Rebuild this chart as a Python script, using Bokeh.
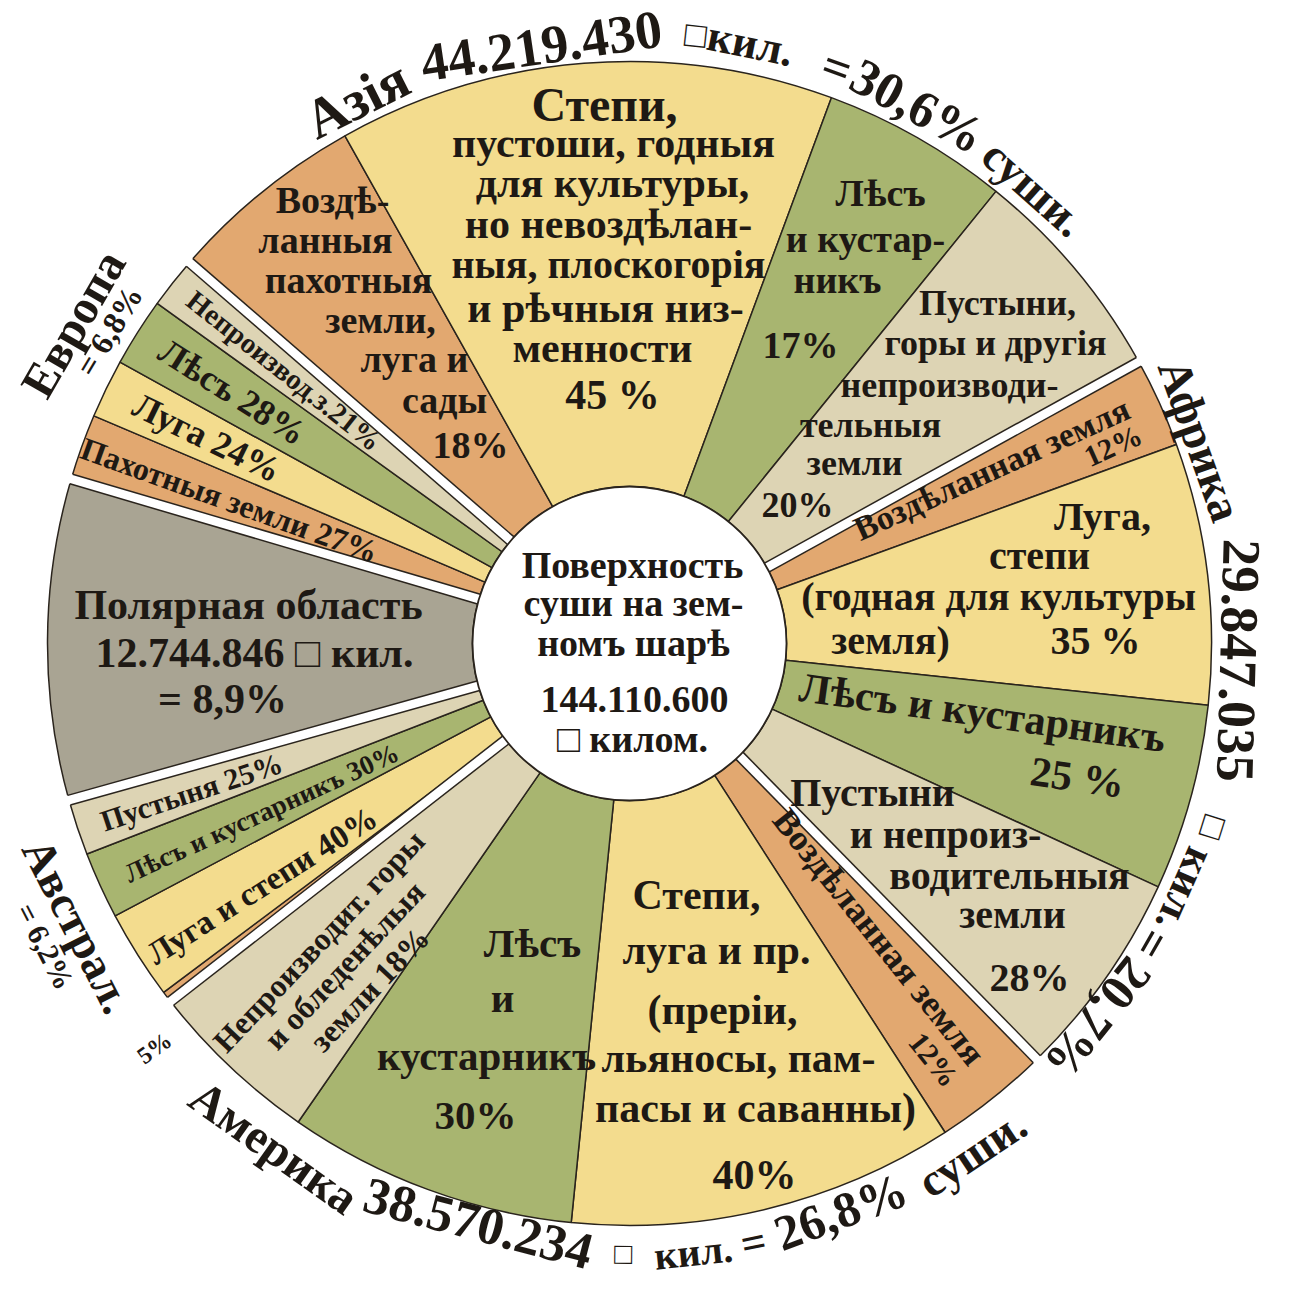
import math
from bokeh.plotting import figure
from bokeh.models import Range1d
from bokeh.embed import file_html
from bokeh.resources import INLINE
from bokeh.core.properties import value

# ------------------------------------------------------------------ data
continent_names = ["Азія", "Африка", "Америка", "Австрал.", "Полярная область", "Европа"]
continent_shares = [30.6, 20.7, 26.8, 6.2, 8.9, 6.8]          # % of all land
continent_areas = ["44.219.430", "29.847.035", "38.570.234", "", "12.744.846", ""]
total_area = "144.110.600"

asia_shares = [18, 45, 17, 20]
africa_shares = [12, 35, 25, 28]
america_shares = [12, 40, 30, 18]
australia_shares = [5, 40, 30, 25]
polar_shares = [100]
europe_shares = [27, 24, 28, 21]

asia_kinds = ["cult", "steppe", "forest", "waste"]
africa_kinds = ["cult", "steppe", "forest", "waste"]
america_kinds = ["cult", "steppe", "forest", "waste"]
australia_kinds = ["cult", "steppe", "forest", "waste"]
polar_kinds = ["polar"]
europe_kinds = ["cult", "steppe", "forest", "waste"]

kind_colors = {"cult": "#E2A870", "steppe": "#F3DC8E", "forest": "#A8B570",
               "waste": "#DDD4B4", "polar": "#A9A493"}

# ------------------------------------------------------------------ figure
W, H = 1275, 1280
p = figure(width=W, height=H, x_range=Range1d(8, 8 + W), y_range=Range1d(8, 8 + H),
           output_backend="svg", toolbar_location=None, min_border=0)
p.axis.visible = False
p.grid.visible = False
p.outline_line_color = None
p.background_fill_color = "white"
p.border_fill_color = "white"

CX, CY = 637, 1296 - 651
R_OUT, R_IN = 582, 157
START = 139.1
GAP = 10
INK = "#1e1914"
EDGE = "#2a241d"
FONT = value("'Liberation Serif', 'DejaVu Serif', serif")

all_shares = [asia_shares, africa_shares, america_shares, australia_shares, polar_shares, europe_shares]
all_kinds = [asia_kinds, africa_kinds, america_kinds, australia_kinds, polar_kinds, europe_kinds]

w_start, w_end, w_color = [], [], []
bounds = []
mids = {}
a = START
for ci, (cs, parts, kinds) in enumerate(zip(continent_shares, all_shares, all_kinds)):
    span = cs * 3.6
    bounds.append(a)
    tot = sum(parts)
    s = a
    for pi, (v, k) in enumerate(zip(parts, kinds)):
        w = span * v / tot
        w_start.append(math.radians(s - w))
        w_end.append(math.radians(s))
        w_color.append(kind_colors[k])
        mids[(ci, pi)] = s - w / 2
        s -= w
    a -= span

p.annular_wedge(x=CX, y=CY, inner_radius=R_IN, outer_radius=R_OUT,
                start_angle=w_start, end_angle=w_end, fill_color=w_color,
                line_color=EDGE, line_width=1.5)

# white gaps between continents
gx, gy, lx, ly = [], [], [], []
h = GAP / 2
for b in bounds:
    t = math.radians(b)
    ux, uy = math.cos(t), math.sin(t)
    nx, ny = -uy, ux
    r0, r1 = R_IN - 6, R_OUT + 6
    gx.append([CX + r0 * ux + h * nx, CX + r1 * ux + h * nx, CX + r1 * ux - h * nx, CX + r0 * ux - h * nx])
    gy.append([CY + r0 * uy + h * ny, CY + r1 * uy + h * ny, CY + r1 * uy - h * ny, CY + r0 * uy - h * ny])
    re = math.sqrt(R_OUT ** 2 - h ** 2)
    for sg in (1, -1):
        lx.append([CX + R_IN * ux + sg * h * nx, CX + re * ux + sg * h * nx])
        ly.append([CY + R_IN * uy + sg * h * ny, CY + re * uy + sg * h * ny])
p.patches(gx, gy, fill_color="white", line_color=None)
p.multi_line(lx, ly, line_color=EDGE, line_width=1.5)

p.circle(x=CX, y=CY, radius=R_IN, fill_color="white", line_color=EDGE, line_width=1.8)


# ------------------------------------------------------------------ text helpers
def put(x, y, s, size, rot=0.0, style="bold"):
    p.text(x=[x], y=[y], text=[s], angle=[math.radians(rot)],
           text_font=FONT, text_font_size=value(f"{size}px"), text_font_style=style,
           text_align="center", text_baseline="middle", text_color=INK)


def put_img(X, Y, s, size, rot=0.0, style="bold"):
    put(X, 1296 - Y, s, size, rot, style)


def polar(phi, r):
    t = math.radians(phi)
    return CX + r * math.cos(t), CY + r * math.sin(t)


def put_lines(phi, r, lines, size, rot, spacing, shift=0.0):
    x0, y0 = polar(phi, r)
    d = math.radians(rot - 90)
    n = len(lines)
    for k, s in enumerate(lines):
        off = (k - (n - 1) / 2) * spacing + shift
        put(x0 + off * math.cos(d), y0 + off * math.sin(d), s, size, rot)


def pct(v):
    return f"{v:.1f}".replace(".", ",") + "%"


def arc_words(words, phis, radii, sizes, outward=True):
    for wd, phi, r, sz in zip(words, phis, radii, sizes):
        rot = phi - 90 if outward else phi + 90
        x, y = polar(phi, r)
        put(x, y, wd, sz, rot)


# ------------------------------------------------------------------ outer labels
arc_words([continent_names[0], continent_areas[0], "□", "кил.", "=", pct(continent_shares[0]), "суши."],
          [116.6, 98.4, 83.8, 78.6, 70.2, 61.8, 48.4],
          [609, 604, 612, 612, 612, 610, 609],
          [56, 54, 36, 44, 50, 52, 46], outward=True)
arc_words([continent_names[1], continent_areas[1], "□", "кил.", "=", pct(continent_shares[1])],
          [19.6, -1.6, -17.5, -23.9, -29.9, -38.6],
          [606, 609, 612, 608, 603, 600],
          [47, 54, 36, 44, 48, 50], outward=True)
arc_words([continent_names[2], continent_areas[2], "□", "кил.", "=", pct(continent_shares[2]), "суши."],
          [-125.2, -104.6, -90.6, -84.0, -78.3, -69.6, -56.1],
          [616, 599, 610, 612, 612, 606, 614],
          [48, 52, 30, 40, 44, 50, 46], outward=False)
arc_words([continent_names[5], "= " + pct(continent_shares[5])], [150.1, 149.0], [642, 607], [48, 32], outward=True)
arc_words([continent_names[3], "= " + pct(continent_shares[3])], [-152.9, -152.6], [620, 658], [46, 30], outward=False)
x5, y5 = polar(-139.6, 624)
put(x5, y5, f"{australia_shares[0]}%", 24, 36)

# ------------------------------------------------------------------ centre
for s, X, Y in [("Поверхность", 640, 572), ("суши на зем-", 641, 610), ("номъ шарѣ", 641, 650),
                (total_area, 642, 707), ("□ килом.", 640, 746)]:
    put_img(X, Y, s, 38)

# ------------------------------------------------------------------ Asia
for s, X, Y in [("Воздѣ-", 340, 207), ("ланныя", 333, 247), ("пахотныя", 356, 287), ("земли,", 388, 327),
                ("луга и", 422, 366), ("сады", 452, 407), (f"{asia_shares[0]}%", 478, 452)]:
    put_img(X, Y, s, 38)
put_img(612, 112, "Степи,", 48)
for s, X, Y, sz in [("пустоши, годныя", 621, 150, 42), ("для культуры,", 620, 190, 42),
                    ("но невоздѣлан-", 616, 231, 42), ("ныя, плоскогорія", 616, 272, 40),
                    ("и рѣчныя низ-", 613, 315, 42), ("менности", 610, 355, 42),
                    (f"{asia_shares[1]} %", 620, 402, 42)]:
    put_img(X, Y, s, sz)
for s, X, Y in [("Лѣсъ", 888, 200), ("и кустар-", 873, 246), ("никъ", 845, 287), (f"{asia_shares[2]}%", 808, 352)]:
    put_img(X, Y, s, 38)
for s, X, Y in [("Пустыни,", 1005, 310), ("горы и другія", 1003, 350), ("непроизводи-", 957, 392),
                ("тельныя", 878, 432), ("земли", 862, 470), (f"{asia_shares[3]}%", 805, 512)]:
    put_img(X, Y, s, 36)

# ------------------------------------------------------------------ Africa
m = mids[(1, 0)]
put_lines(m, 402, ["Воздѣланная земля"], 34, m, 0, shift=-9)
put_lines(m, 522, [f"{africa_shares[0]}%"], 30, m, 0, shift=20)
for s, X, Y in [("Луга,", 1110, 524), ("степи", 1047, 563), ("(годная для культуры", 1006, 604),
                ("земля)", 898, 648), (f"{africa_shares[1]} %", 1103, 648)]:
    put_img(X, Y, s, 40)
put_img(990, 720, "Лѣсъ и кустарникъ", 42, -8)
put_img(1085, 785, f"{africa_shares[2]} %", 42, -8)
for s, X, Y in [("Пустыни", 880, 800), ("и непроиз-", 953, 842), ("водительныя", 1017, 883),
                ("земли", 1020, 922), (f"{africa_shares[3]}%", 1037, 985)]:
    put_img(X, Y, s, 40)

# ------------------------------------------------------------------ America
m = mids[(2, 0)]
put_lines(m, 385, ["Воздѣланная земля"], 36, m, 0, shift=-12)
put_lines(m, 515, [f"{america_shares[0]}%"], 30, m, 0, shift=22)
for s, X, Y in [("Степи,", 704, 902), ("луга и пр.", 724, 957), ("(преріи,", 730, 1017),
                ("льяносы, пам-", 746, 1065), ("пасы и саванны)", 763, 1115), (f"{america_shares[1]}%", 762, 1182)]:
    put_img(X, Y, s, 42)
for s, X, Y in [("Лѣсъ", 540, 950), ("и", 510, 1005), ("кустарникъ", 494, 1063), (f"{america_shares[2]}%", 483, 1122)]:
    put_img(X, Y, s, 41)
m = mids[(2, 3)]
put_lines(m + 1.8, 430, ["Непроизводит. горы", "и обледенѣлыя", f"земли {america_shares[3]}%"], 32, m + 180, 35)

# ------------------------------------------------------------------ Australia
m = mids[(3, 3)]
put_lines(m + 0.3, 455, [f"Пустыня   {australia_shares[3]}%"], 30, m + 180, 0)
m = mids[(3, 2)]
put_lines(m + 0.2, 405, [f"Лѣсъ и кустарникъ {australia_shares[2]}%"], 27, m + 180, 0)
m = mids[(3, 1)]
put_lines(m + 1.0, 440, [f"Луга и степи {australia_shares[1]}%"], 33, m + 180, 0)

# ------------------------------------------------------------------ Polar
for s, X, Y in [("Полярная область", 256, 612), (f"{continent_areas[4]} □ кил.", 262, 660),
                ("= " + pct(continent_shares[4]), 230, 706)]:
    put_img(X, Y, s, 42)

# ------------------------------------------------------------------ Europe
m = mids[(5, 0)]
put_lines(m, 425, [f"Пахотныя земли {europe_shares[0]}%"], 32, m - 180, 0)
m = mids[(5, 1)]
put_lines(m, 470, [f"Луга {europe_shares[1]}%"], 36, m - 180, 0)
m = mids[(5, 2)]
put_lines(m, 470, [f"Лѣсъ {europe_shares[2]}%"], 36, m - 180, 0)
m = mids[(5, 3)]
put_lines(m, 440, [f"Непроизвод.з.{europe_shares[3]}%"], 29, m - 180, 0)

open("out.html", "w").write(file_html(p, INLINE))
